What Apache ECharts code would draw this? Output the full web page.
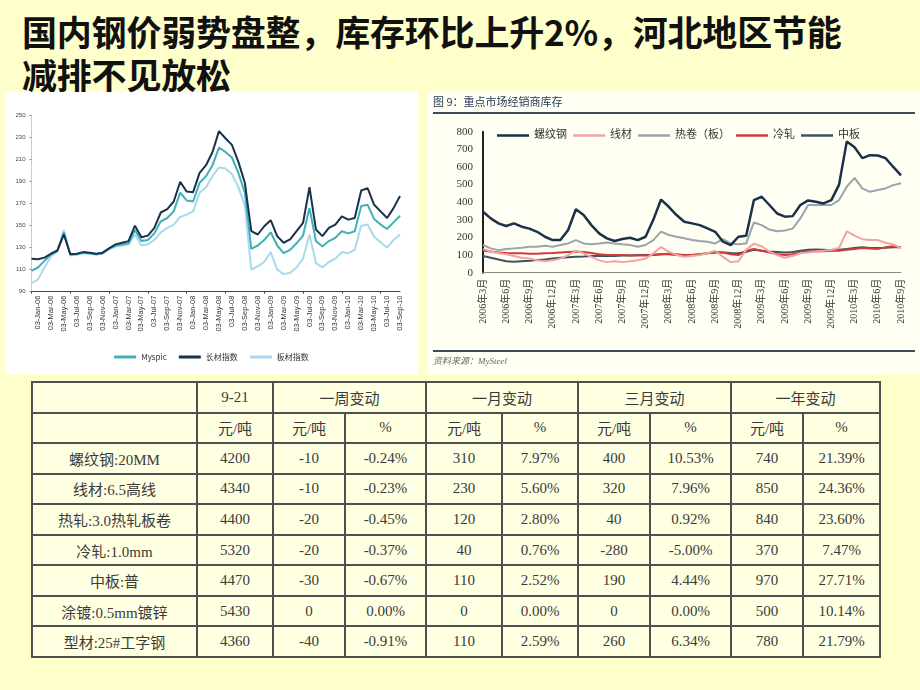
<!DOCTYPE html>
<html>
<head>
<meta charset="utf-8">
<script src="https://cdn.jsdelivr.net/npm/echarts@6/dist/echarts.min.js"></script>
<style>
html,body{margin:0;padding:0;width:920px;height:690px;background:#FFFFCC;overflow:hidden;}
#title{position:absolute;left:22px;top:9px;font-family:"Noto Sans CJK SC",sans-serif;font-weight:bold;font-size:35px;line-height:43px;color:#111;white-space:nowrap;letter-spacing:-0.2px;}
#left{position:absolute;left:5px;top:92px;width:413px;height:282px;background:#ffffff;}
#right{position:absolute;left:428px;top:92px;width:492px;height:282px;background:#FFFFF4;}
#tbl{position:absolute;left:31px;top:381px;width:849px;height:277px;table-layout:fixed;border-collapse:collapse;background:#FFFFE2;font-family:"Liberation Serif","Noto Sans CJK SC",serif;font-size:15px;color:#3a3a3a;}
#tbl td{border:2px solid #505050;padding:0;text-align:center;}
</style>
</head>
<body>
<div id="title">国内钢价弱势盘整，库存环比上升2%，河北地区节能<br>减排不见放松</div>
<div id="left"></div>
<div id="right"></div>
<table id="tbl"></table>
<script>
// ---------- Left chart data ----------
const leftDates = ["03-Dec-05","03-Jan-06","03-Feb-06","03-Mar-06","03-Apr-06","03-May-06","03-Jun-06","03-Jul-06","03-Aug-06","03-Sep-06","03-Oct-06","03-Nov-06","03-Dec-06",
"03-Jan-07","03-Feb-07","03-Mar-07","03-Apr-07","03-May-07","03-Jun-07","03-Jul-07","03-Aug-07","03-Sep-07","03-Oct-07","03-Nov-07","03-Dec-07",
"03-Jan-08","03-Feb-08","03-Mar-08","03-Apr-08","03-May-08","03-Jun-08","03-Jul-08","03-Aug-08","03-Sep-08","03-Oct-08","03-Nov-08","03-Dec-08",
"03-Jan-09","03-Feb-09","03-Mar-09","03-Apr-09","03-May-09","03-Jun-09","03-Jul-09","03-Aug-09","03-Sep-09","03-Oct-09","03-Nov-09","03-Dec-09",
"03-Jan-10","03-Feb-10","03-Mar-10","03-Apr-10","03-May-10","03-Jun-10","03-Jul-10","03-Aug-10","03-Sep-10"];
const longIndex = [120,119.5,121,124.5,127.5,142,124,124.5,126,125.5,124.5,125.5,129.5,133,134.5,136,150,139.5,141,148,162,165,172,190,181,180.5,198,205,217,236,229.5,223.5,208,189,145,142,149.5,155,140.5,134.5,137.5,145,152.5,185,146.5,140.5,148,151,158.5,155.5,157,182,184,169,163,157,166,177];
const myspic = [109,112,118,124,127,144,124,124,125.5,125,124,125,129,132,133,134,146,136,137,143,154,157,163,180,173,172,189,195,205,221,217,212,198,180,129,132,137,144,132,125,128,134,141,166,136,131,136,139,145,143,145,168,169,156,151,147,153,159];
const plateIndex = [98,101,112,122,126.5,146,123,123.5,125,124.5,123.5,124.5,128.5,131,132,133,142,132,133,137,144,148,151,158,160,163,180,185,195,203,202,197,185,168,110,113,117,126,110,106,107,112,120,142,116,112,117,120,126,125,128,150,151,140,135,130,137,142];

// ---------- Right chart data ----------
const rightMonths = ["2006年3月","2006年4月","2006年5月","2006年6月","2006年7月","2006年8月","2006年9月","2006年10月","2006年11月","2006年12月",
"2007年1月","2007年2月","2007年3月","2007年4月","2007年5月","2007年6月","2007年7月","2007年8月","2007年9月","2007年10月","2007年11月","2007年12月",
"2008年1月","2008年2月","2008年3月","2008年4月","2008年5月","2008年6月","2008年7月","2008年8月","2008年9月","2008年10月","2008年11月","2008年12月",
"2009年1月","2009年2月","2009年3月","2009年4月","2009年5月","2009年6月","2009年7月","2009年8月","2009年9月","2009年10月","2009年11月","2009年12月",
"2010年1月","2010年2月","2010年3月","2010年4月","2010年5月","2010年6月","2010年7月","2010年8月","2010年9月"];
const rebar = [346,308,280,265,280,261,250,232,204,185,185,242,360,327,270,223,195,180,191,198,185,204,300,415,374,327,289,280,270,251,232,176,157,204,210,412,431,384,336,318,321,384,410,403,393,412,500,745,712,650,667,665,650,600,552];
const wire = [135,120,110,105,95,85,80,70,65,70,80,100,125,110,90,70,60,65,60,65,70,80,110,145,120,100,90,95,100,110,125,90,60,65,130,165,150,120,100,85,95,110,115,120,125,130,140,235,210,190,185,185,170,160,140];
const hotCoil = [157,138,128,134,138,142,147,147,153,147,157,166,185,166,161,166,172,166,161,157,147,157,185,233,214,204,195,185,180,176,166,191,166,161,166,285,270,245,235,240,250,308,384,384,384,384,412,488,538,478,459,469,478,497,507];
const coldRoll = [125,120,115,112,110,110,108,108,110,112,115,118,120,118,112,105,100,100,100,98,97,98,100,105,108,105,100,100,105,110,118,115,105,100,125,135,125,115,105,100,105,115,120,120,122,125,125,130,135,140,138,135,145,150,145];
const medPlate = [95,85,75,65,62,65,68,72,75,80,85,88,90,92,95,95,95,95,97,97,100,100,102,105,105,100,98,100,105,110,115,115,112,110,118,130,125,120,118,115,118,125,130,132,130,128,130,135,140,145,140,140,142,145,145];

// ---------- Table data ----------
const tblHeader1 = ["", "9-21", "一周变动", "一月变动", "三月变动", "一年变动"];
const tblHeader2 = ["", "元/吨", "元/吨", "%", "元/吨", "%", "元/吨", "%", "元/吨", "%"];
const products = ["螺纹钢:20MM","线材:6.5高线","热轧:3.0热轧板卷","冷轧:1.0mm","中板:普","涂镀:0.5mm镀锌","型材:25#工字钢"];
const price921 = ["4200","4340","4400","5320","4470","5430","4360"];
const weekAbs = ["-10","-10","-20","-20","-30","0","-40"];
const weekPct = ["-0.24%","-0.23%","-0.45%","-0.37%","-0.67%","0.00%","-0.91%"];
const monthAbs = ["310","230","120","40","110","0","110"];
const monthPct = ["7.97%","5.60%","2.80%","0.76%","2.52%","0.00%","2.59%"];
const qtrAbs = ["400","320","40","-280","190","0","260"];
const qtrPct = ["10.53%","7.96%","0.92%","-5.00%","4.44%","0.00%","6.34%"];
const yearAbs = ["740","850","840","370","970","500","780"];
const yearPct = ["21.39%","24.36%","23.60%","7.47%","27.71%","10.14%","21.79%"];

// ---------- Build table ----------
const colW = [165,76,72,81,76,76,72,81,72,77];
let html = '<colgroup>' + colW.map(w => '<col style="width:' + w + 'px">').join('') + '</colgroup>';
html += '<tr>' + tblHeader1.map((t, i) => '<td' + (i >= 2 ? ' colspan="2"' : '') + '>' + t + '</td>').join('') + '</tr>';
html += '<tr>' + tblHeader2.map(t => '<td>' + t + '</td>').join('') + '</tr>';
for (let i = 0; i < products.length; i++) {
  const cells = [products[i], price921[i], weekAbs[i], weekPct[i], monthAbs[i], monthPct[i], qtrAbs[i], qtrPct[i], yearAbs[i], yearPct[i]];
  html += '<tr>' + cells.map(t => '<td>' + t + '</td>').join('') + '</tr>';
}
document.getElementById('tbl').innerHTML = html;

// ---------- Left chart ----------
const lc = echarts.init(document.getElementById('left'));
lc.setOption({
  animation: false,
  backgroundColor: '#ffffff',
  grid: { left: 26.5, right: 18, top: 23.7, bottom: 82.3 },
  legend: {
    bottom: 8, left: 'center', icon: 'rect', itemWidth: 22, itemHeight: 3, itemGap: 12,
    textStyle: { fontSize: 8, color: '#333', fontFamily: 'Noto Sans CJK SC' },
    data: ['Myspic', '长材指数', '板材指数']
  },
  xAxis: {
    type: 'category', data: leftDates, boundaryGap: false,
    axisLine: { lineStyle: { color: '#444', width: 1 } },
    axisTick: { show: true, length: 2, interval: 5, lineStyle: { color: '#444' } },
    axisLabel: { rotate: 90, fontSize: 7.5, color: '#333', interval: (i) => i % 2 === 1, margin: 4 }
  },
  yAxis: {
    type: 'value', min: 90, max: 250, interval: 20,
    axisLine: { show: true, lineStyle: { color: '#ccc' } },
    axisTick: { show: true, length: 2, lineStyle: { color: '#888' } },
    axisLabel: { fontSize: 6, color: '#444', margin: 6 },
    splitLine: { show: false }
  },
  series: [
    { name: '板材指数', type: 'line', data: plateIndex, showSymbol: false, lineStyle: { width: 2, color: '#a9d9ec' }, itemStyle: { color: '#a9d9ec' } },
    { name: 'Myspic', type: 'line', data: myspic, showSymbol: false, lineStyle: { width: 2, color: '#3fb0b6' }, itemStyle: { color: '#3fb0b6' } },
    { name: '长材指数', type: 'line', data: longIndex, showSymbol: false, lineStyle: { width: 2, color: '#17324d' }, itemStyle: { color: '#17324d' } }
  ]
});

// ---------- Right chart ----------
const rc = echarts.init(document.getElementById('right'));
const serifCJK = '"Liberation Serif","Noto Sans CJK SC",serif';
rc.setOption({
  animation: false,
  backgroundColor: '#FFFFF4',
  grid: { left: 55, right: 19, top: 39.7, bottom: 101.3 },
  graphic: [
    { type: 'text', left: 5, top: 4, style: { text: '图 9：重点市场经销商库存', fontSize: 11, fill: '#2a3a55', fontFamily: 'Noto Sans CJK SC' } },
    { type: 'line', shape: { x1: 5, y1: 21, x2: 487, y2: 21 }, style: { stroke: '#3b4a5c', lineWidth: 2 } },
    { type: 'line', shape: { x1: 5, y1: 259, x2: 487, y2: 259 }, style: { stroke: '#3b4a5c', lineWidth: 2 } },
    { type: 'text', left: 5, top: 265, style: { text: '资料来源：MySteel', fontSize: 9, fontStyle: 'italic', fill: '#666', fontFamily: serifCJK } }
  ],
  legend: {
    top: 33, left: 64, icon: 'rect', itemWidth: 32, itemHeight: 2.5, itemGap: 6,
    textStyle: { fontSize: 11, color: '#333', fontFamily: serifCJK },
    data: ['螺纹钢', '线材', '热卷（板）', '冷轧', '中板']
  },
  xAxis: {
    type: 'category', data: rightMonths, boundaryGap: false,
    axisLine: { lineStyle: { color: '#888', width: 1 } },
    axisTick: { show: false },
    axisLabel: { rotate: 90, interval: 2, fontSize: 10, color: '#333', fontFamily: serifCJK, margin: 6 }
  },
  yAxis: {
    type: 'value', min: 0, max: 800, interval: 100,
    axisLine: { show: true, lineStyle: { color: '#222', width: 2 } },
    axisTick: { show: false },
    axisLabel: { fontSize: 11, color: '#333', fontFamily: serifCJK, margin: 10 },
    splitLine: { show: false }
  },
  series: [
    { name: '中板', type: 'line', data: medPlate, showSymbol: false, lineStyle: { width: 2, color: '#3f5262' }, itemStyle: { color: '#3f5262' } },
    { name: '冷轧', type: 'line', data: coldRoll, showSymbol: false, lineStyle: { width: 2, color: '#d03a3a' }, itemStyle: { color: '#d03a3a' } },
    { name: '线材', type: 'line', data: wire, showSymbol: false, lineStyle: { width: 2, color: '#f2a3a3' }, itemStyle: { color: '#f2a3a3' } },
    { name: '热卷（板）', type: 'line', data: hotCoil, showSymbol: false, lineStyle: { width: 2, color: '#9aa4ad' }, itemStyle: { color: '#9aa4ad' } },
    { name: '螺纹钢', type: 'line', data: rebar, showSymbol: false, lineStyle: { width: 2.5, color: '#1c3147' }, itemStyle: { color: '#1c3147' } }
  ]
});
</script>
</body>
</html>
